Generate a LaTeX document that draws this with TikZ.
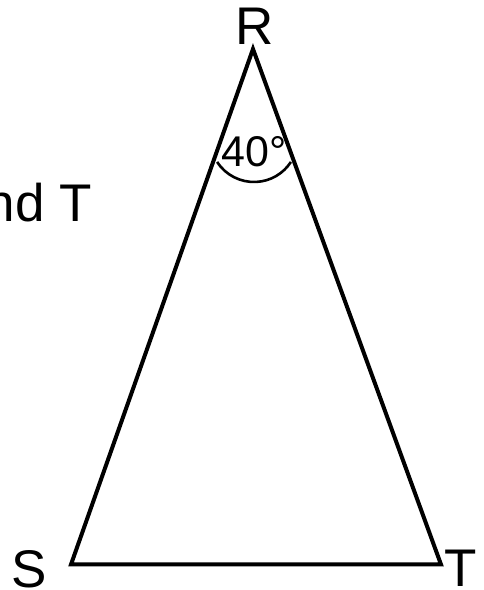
\documentclass[tikz,border=0pt]{standalone}
\usepackage{fontspec}
\setmainfont{Liberation Sans}
\usetikzlibrary{calc}
\begin{document}
\begin{tikzpicture}[x=1pt,y=1pt,
  side/.style={line width=4pt,line join=miter},
  anglearc/.style={line width=2.6pt},
  biglabel/.style={inner sep=0pt,font=\fontsize{53}{60}\selectfont},
  anglelabel/.style={inner sep=0pt,font=\fontsize{43}{50}\selectfont}]
\useasboundingbox (0,0) rectangle (484,590);
\coordinate (R) at (253,541);
\coordinate (S) at (71,25.5);
\coordinate (T) at (441,25.5);
\draw[side] (R) -- (S) -- (T) -- cycle;
\coordinate (arcstart) at ($(254,452)+(213:44)$);
\draw[anglearc] (arcstart) arc[start angle=213,end angle=327,radius=44];
\node[biglabel] (lR) at (255,564) {R};
\node[biglabel] (lS) at (29,20.5) {S};
\node[biglabel] (lT) at (461,22) {T};
\node[biglabel,anchor=east] (lnd) at (92,387.5) {nd T};
\node[anglelabel] (a40) at (254.5,438.5) {40°};
\end{tikzpicture}
\end{document}
